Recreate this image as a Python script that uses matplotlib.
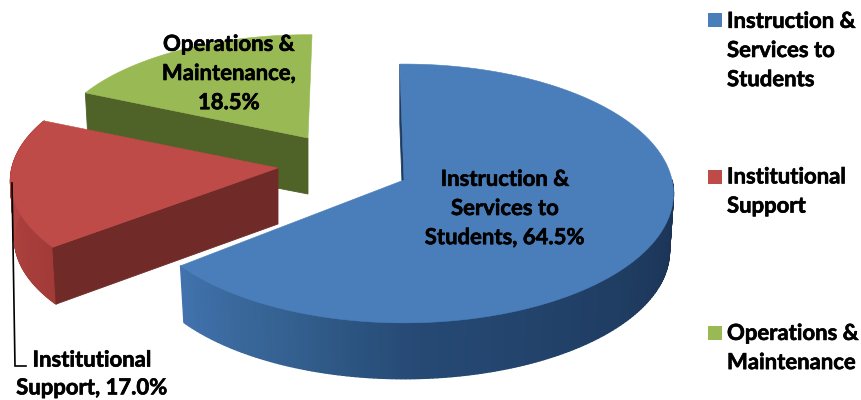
"""
Exploded 3D-style pie of expenditure shares, drawn in pixel coordinates.
"""
import numpy as np
import matplotlib.pyplot as plt
import matplotlib.patheffects as pe
from matplotlib.collections import PolyCollection
from matplotlib.colors import LinearSegmentedColormap
from matplotlib.patches import Rectangle

# --- Data ---
SHARES = [64.5, 17.0, 18.5]
LEGEND_LABELS = ["Instruction &\nServices to\nStudents",
                 "Institutional\nSupport",
                 "Operations &\nMaintenance"]
DATA_LABELS = ["Instruction &\nServices to\nStudents, 64.5%",
               "Institutional\nSupport, 17.0%",
               "Operations &\nMaintenance,\n18.5%"]

# --- Colours ---
TOP_COLORS = ["#4a7ebb", "#be4b48", "#98b954"]
CUT_COLORS = ["#1f3b60", "#702b28", "#4f6228"]
RIM_STOPS = [
    [(0.0, "#1a3152"), (0.63, "#264a75"), (0.8, "#33608f"), (1.0, "#4272ad")],
    [(0.0, "#a23b38"), (0.6, "#b24441"), (1.0, "#b24441")],
    None,  # the green slice shows no outer wall, it faces away
]

# --- Slice geometry: apex, radii and the angle each slice starts at ---
APEX = [(404, 180), (278, 168), (308, 138)]
RADII = [(268, 128), (266, 122), (255, 114)]
START_DEG = [-1.0, 232.5, 294.4]
RIM_FROM_DEG = [90.0, None, None]
PERSPECTIVE = 0.104
DEPTH = 58
BOTTOM_SCALE = 0.985


def project(theta, apex, radii, scale=1.0, drop=0.0):
    # clockwise from 12 o'clock, with the back of the disc foreshortened
    u, v = np.sin(theta), np.cos(theta)
    s = scale / (1 + PERSPECTIVE * v)
    return np.column_stack([apex[0] + radii[0] * u * s,
                            apex[1] - radii[1] * v * s + drop])


def draw_slice(ax, i):
    apex, radii = APEX[i], RADII[i]
    span = SHARES[i] / 100 * 2 * np.pi
    start = np.deg2rad(START_DEG[i])
    theta = np.linspace(start, start + span, 160)
    top = project(theta, apex, radii)

    # outer wall, shaded along the arc
    if RIM_STOPS[i] is not None:
        rim_start = start if RIM_FROM_DEG[i] is None else np.deg2rad(RIM_FROM_DEG[i])
        cmap = LinearSegmentedColormap.from_list("rim", RIM_STOPS[i])
        rim_t = np.linspace(rim_start, start + span, 160)
        upper = project(rim_t, apex, radii)
        lower = project(rim_t, apex, radii, BOTTOM_SCALE, DEPTH)
        quads = [[upper[j], upper[j + 1], lower[j + 1], lower[j]] for j in range(len(rim_t) - 1)]
        shades = cmap(np.linspace(0, 1, len(quads)))
        ax.add_collection(PolyCollection(quads, facecolors=shades, edgecolors=shades, linewidths=1.0))

    # cut face along the starting edge
    corner = top[0]
    corner_low = project(theta[:1], apex, radii, BOTTOM_SCALE, DEPTH)[0]
    face = [corner, apex, (apex[0], apex[1] + DEPTH - 2), corner_low]
    ax.fill(*zip(*face), color=CUT_COLORS[i], lw=0.6)

    # top face
    outline = np.vstack([[apex], top])
    ax.fill(outline[:, 0], outline[:, 1], facecolor=TOP_COLORS[i],
            edgecolor=TOP_COLORS[i], lw=0.4)


plt.rcParams["font.family"] = ["Lato", "DejaVu Sans"]
plt.rcParams["font.weight"] = "bold"
FONT_SIZE = 15.9
HEAVY = [pe.withStroke(linewidth=0.45, foreground="black")]

fig = plt.figure(figsize=(8.61, 4.0), dpi=100)
ax = fig.add_axes([0, 0, 1, 1])
ax.set_xlim(0, 861)
ax.set_ylim(400, 0)
ax.axis("off")

# back to front
for idx in [2, 1, 0]:
    draw_slice(ax, idx)

# leader line for the outside label
ax.plot([12, 15, 26], [183, 366, 366], color="black", lw=1.2, solid_joinstyle="miter")

# the outside label keeps a little room above the bottom edge
label_pos = [(505, 208.5), (92, 374), (229, 73.5)]
line_gaps = [1.48, 1.4, 1.48]
for text, (x, y), gap in zip(DATA_LABELS, label_pos, line_gaps):
    ax.text(x, y, text, ha="center", va="center", fontsize=FONT_SIZE,
            fontweight="bold", color="black", linespacing=gap, path_effects=HEAVY)

# legend
swatch_y = [20, 177, 333]
legend_text_y = [50.5, 191.5, 348]
for label, color, sy, ty in zip(LEGEND_LABELS, TOP_COLORS, swatch_y, legend_text_y):
    ax.add_patch(Rectangle((708, sy - 7), 14, 14, facecolor=color, edgecolor="none"))
    ax.text(727, ty, label, ha="left", va="center", fontsize=FONT_SIZE,
            fontweight="bold", color="black", linespacing=1.48, path_effects=HEAVY)

fig.savefig("out.png", dpi=100)
